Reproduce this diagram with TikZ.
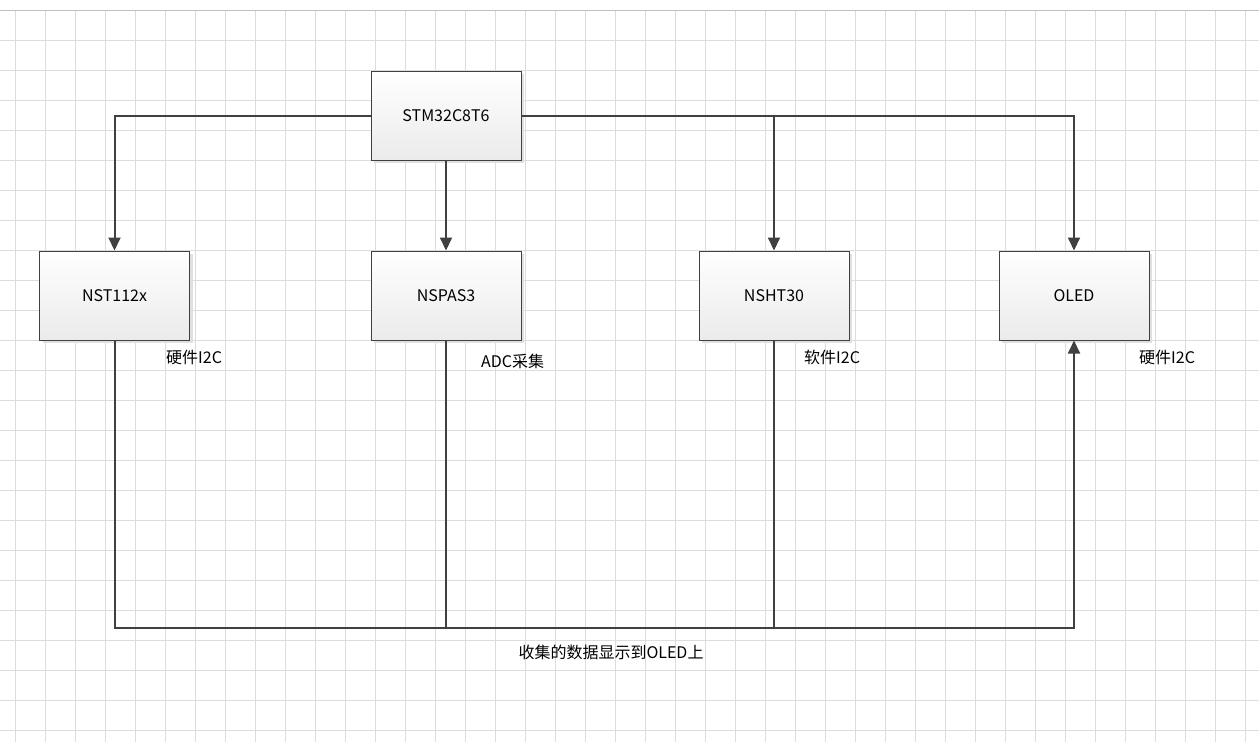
\documentclass[tikz,border=0pt]{standalone}
\usepackage{fontspec}
\setmainfont{Noto Sans CJK SC}
\usepackage{tikz}
\usetikzlibrary{arrows.meta,shadows}

\definecolor{gridgray}{HTML}{DCDCDC}
\definecolor{linegray}{HTML}{404040}

\begin{document}
\begin{tikzpicture}
[x=1pt,y=-1pt,
	 block/.style={draw=linegray,line width=1pt,minimum width=150pt,minimum height=89pt,
	 top color=white,bottom color=black!8,
	 drop shadow={shadow xshift=3pt,shadow yshift=-3pt,fill=black!12,opacity=1},
	 font=\fontsize{16}{18}\selectfont},
	 link/.style={-{Triangle[length=13pt,width=12pt]},line width=2pt,linegray},
	 wire/.style={line width=2pt,linegray},
	 note/.style={anchor=west,inner sep=0pt,font=\fontsize{16}{18}\selectfont}];
\useasboundingbox (0,0) rectangle (1259,742);
\fill[white] (0,0) rectangle (1259,742);
\foreach \gx in {15,45,...,1245} \draw[gridgray,line width=1pt] (\gx,10) -- (\gx,742);
\foreach \gy in {40,70,...,730} \draw[gridgray,line width=1pt] (0,\gy) -- (1259,\gy);
\draw[black!25,line width=1pt] (0,10) -- (1259,10);

\node[block] (stm) at (446,115.5) {STM32C8T6};
\node[block] (nst) at (114.5,295.5) {NST112x};
\node[block] (nspas) at (446,295.5) {NSPAS3};
\node[block] (nsht) at (774,295.5) {NSHT30};
\node[block] (oled) at (1074,295.5) {OLED};
\coordinate (bus) at (114.5,628);

\draw[link] (stm.west) -| (nst.north);
\draw[link] (stm.south) -- (nspas.north);
\draw[link] (stm.east) -| (nsht.north);
\draw[link] (stm.east) -| (oled.north);

\draw[link] (nst.south) -- (bus) -| (oled.south);
\draw[wire] (nspas.south) -- (nspas.south |- bus);
\draw[wire] (nsht.south) -- (nsht.south |- bus);

\node[note] (nstlabel) at (166,357) {硬件I2C};
\node[note] (nspaslabel) at (481,361) {ADC采集};
\node[note] (nshtlabel) at (804,357) {软件I2C};
\node[note] (oledlabel) at (1139,357) {硬件I2C};
\node[inner sep=0pt,font=\fontsize{16}{18}\selectfont] (buslabel) at (611,652) {收集的数据显示到OLED上};

\end{tikzpicture}
\end{document}
